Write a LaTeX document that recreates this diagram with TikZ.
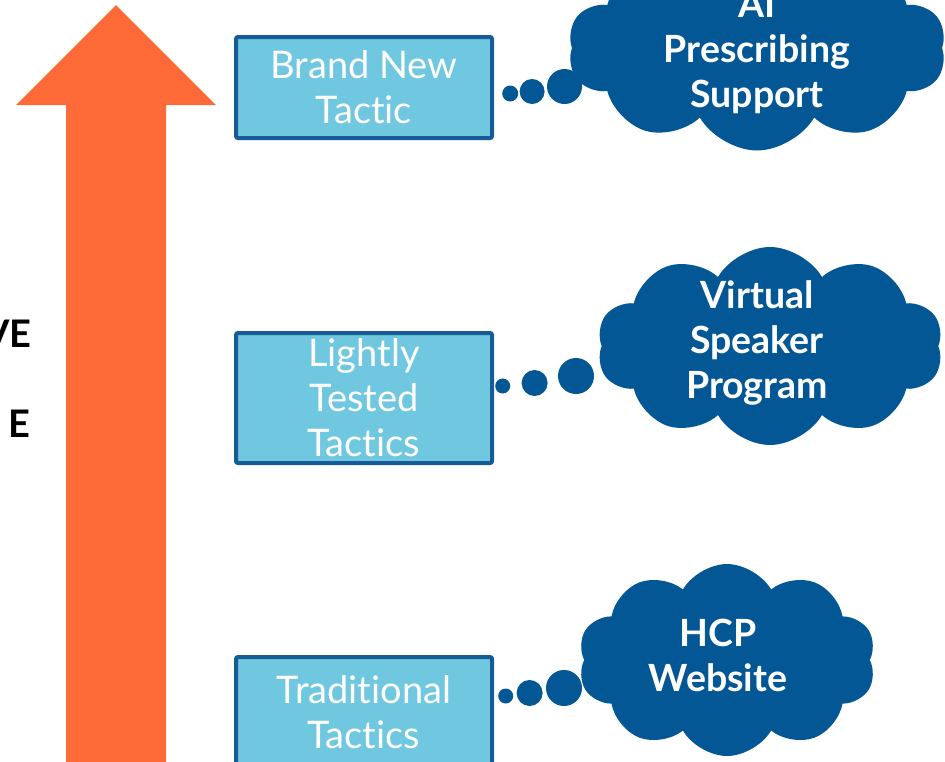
\documentclass[tikz,border=0pt]{standalone}
\usepackage{fontspec}
\setmainfont{Lato}[Ligatures=NoCommon]
\usetikzlibrary{shapes.symbols,positioning}

\definecolor{arroworange}{RGB}{255,107,56}
\definecolor{tacticblue}{RGB}{112,200,224}
\definecolor{edgeblue}{RGB}{22,90,150}
\definecolor{cloudblue}{RGB}{3,87,148}

\tikzset{
  tactic/.style={draw=edgeblue, line width=4pt, fill=tacticblue, rounded corners=2pt,
    minimum width=256pt, text=white, align=center, font=\fontsize{38}{45}\selectfont},
  idea/.style={cloud, cloud puffs=10, cloud puff arc=120, aspect=1.8,
    fill=cloudblue, inner sep=0pt},
  idealabel/.style={text=white, align=center, font=\fontsize{37.5}{45}\selectfont\bfseries},
  bubble/.style={circle, fill=cloudblue, inner sep=0pt},
  sidelabel/.style={anchor=base east, inner sep=0pt, font=\fontsize{38}{45}\selectfont\bfseries},
}

\begin{document}
\begin{tikzpicture}[x=1pt,y=-1pt]
\useasboundingbox (0,0) rectangle (945,761);
\clip (0,0) rectangle (945,761);

% big arrow on the left
\fill[arroworange] (16,105) -- (116,5) -- (216,105) -- (166,105) -- (166,780)
  -- (66,780) -- (66,105) -- cycle;
\node[sidelabel] (lblA) at (32,347) {VE};
\node[sidelabel] (lblB) at (31,437) {E};

% tactics
\node[tactic, minimum height=101pt] (t1) at (364,87.5) {Brand New\\Tactic};
\node[tactic, minimum height=130pt] (t2) at (364,398) {Lightly\\Tested\\Tactics};
\node[tactic, minimum height=110pt] (t3) at (364,712) {Traditional\\Tactics};

% clouds
\node[idea, minimum width=378pt, minimum height=205pt] (c1) at (757,48) {};
\node[idea, minimum width=346pt, minimum height=198pt] (c2) at (770,346) {};
\node[idea, minimum width=298pt, minimum height=192pt] (c3) at (727,660) {};
\node[idealabel] (c1txt) at (757,52) {AI\\Prescribing\\Support};
\node[idealabel] (c2txt) at (757,343) {Virtual\\Speaker\\Program};
\node[idealabel] (c3txt) at (718,655) {HCP\\Website};

% thought bubbles between box and cloud
\node[bubble, minimum size=16pt, right=8pt of t1.east, yshift=-6pt] (b1a) {};
\node[bubble, minimum size=25pt, right=1pt of b1a, yshift=2pt] (b1b) {};
\node[bubble, minimum size=35pt, right=2pt of b1b, yshift=5pt] (b1c) {};

\node[bubble, minimum size=15pt, right=1pt of t2.east, yshift=12pt] (b2a) {};
\node[bubble, minimum size=26pt, right=11pt of b2a, yshift=3pt] (b2b) {};
\node[bubble, minimum size=36pt, right=10pt of b2b, yshift=7pt] (b2c) {};

\node[bubble, minimum size=15pt, right=4pt of t3.east, yshift=16pt] (b3a) {};
\node[bubble, minimum size=26pt, right=3pt of b3a, yshift=3pt] (b3b) {};
\node[bubble, minimum size=36pt, right=3pt of b3b, yshift=5pt] (b3c) {};
\end{tikzpicture}
\end{document}
